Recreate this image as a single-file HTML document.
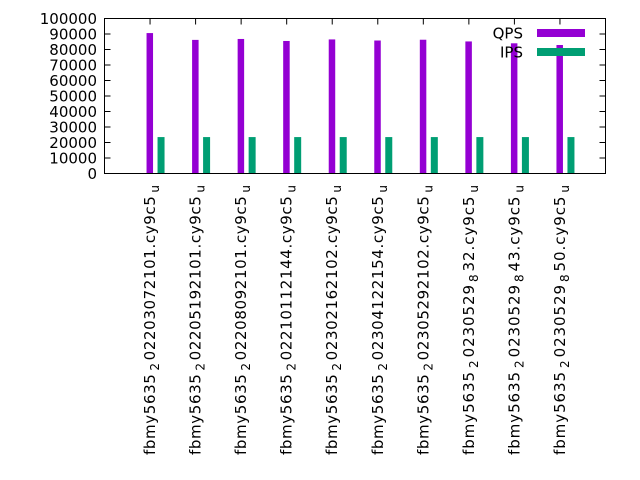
<!DOCTYPE html>
<html><head><meta charset="utf-8"><style>body{margin:0;background:#fff}svg{display:block;font-family:"DejaVu Sans","Liberation Sans",sans-serif}</style></head>
<body>
<svg id="c" width="640" height="480"></svg>
<script>
const categories=[["02203072101",""],["02205192101",""],["02208092101",""],["02210112144",""],["02302162102",""],["02304122154",""],["02305292102",""],["0230529","8","32"],["0230529","8","43"],["0230529","8","50"]];
const qps=[90600,86200,86800,85500,86500,85800,86300,85200,84000,82900];
const ips=[23500,23500,23500,23500,23500,23500,23500,23500,23500,23500];
const yTicks=[0,10000,20000,30000,40000,50000,60000,70000,80000,90000,100000];
const NS="http://www.w3.org/2000/svg";
const svg=document.getElementById('c');
const L=104.5,R=605.5,T=18.5,B=173.5;
const x=i=>L+(i+1)*(R-L)/11;
const y=v=>B-v/100000*(B-T);
function mk(t,a,p){const e=document.createElementNS(NS,t);for(const k in a)e.setAttribute(k,a[k]);(p||svg).appendChild(e);return e;}
yTicks.forEach(v=>{
 const t=mk('line',{x1:L,x2:L+6,y1:y(v),y2:y(v),stroke:'#000'});
 
 
 const t2=mk('line',{x1:R,x2:R-6,y1:y(v),y2:y(v),stroke:'#000'});
 
 
 const l=mk('text',{x:97,y:y(v)+5.5,'text-anchor':'end','font-size':15});
 l.textContent=v;
 
 
});
categories.forEach((c,i)=>{
 const cx=x(i);
 const t=mk('line',{x1:cx,x2:cx,y1:B,y2:B-6,stroke:'#000'});
 
 
 const t2=mk('line',{x1:cx,x2:cx,y1:T,y2:T+6,stroke:'#000'});
 
 
 const b=mk('rect',{x:cx-3.5,y:y(qps[i]),width:6.5,height:B-y(qps[i]),fill:'#9400d3'});
 
 
 const g=mk('rect',{x:cx+7.5,y:y(ips[i]),width:7,height:B-y(ips[i]),fill:'#009e73'});
 
 
 const tx=mk('text',{transform:`translate(${cx+5},185) rotate(-90)`,'text-anchor':'end','font-size':15,textLength:270,lengthAdjust:'spacing'});
 
 
 let h='fbmy5635<tspan dx="3" dy="4" font-size="12">2</tspan><tspan dx="2" dy="-4">'+c[0]+'</tspan>';
 if(c.length>2)h+='<tspan dx="2" dy="4" font-size="12">'+c[1]+'</tspan><tspan dx="2" dy="-4">'+c[2]+'</tspan>';
 h+='<tspan>.cy9c5</tspan><tspan dx="3" dy="4" font-size="12">u</tspan>';
 tx.innerHTML=h;
});
const f=mk('rect',{x:L,y:T,width:R-L,height:B-T,fill:'none',stroke:'#000'});


[['QPS','#9400d3',33],['IPS','#009e73',52]].forEach(([n,c,yy])=>{
 const t=mk('text',{x:523,y:yy+5.5,'text-anchor':'end','font-size':15});t.textContent=n;
 
 
 const s=mk('rect',{x:537,y:yy-4,width:48,height:8,fill:c});
 
 
});
</script>
</body></html>
